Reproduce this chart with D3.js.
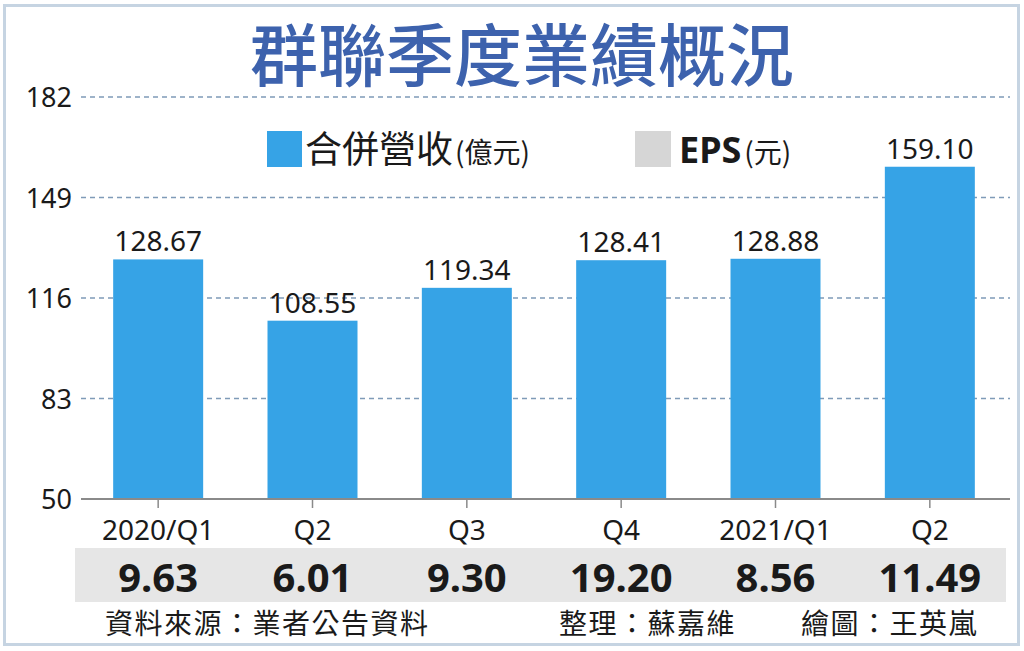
<!DOCTYPE html>
<html><head><meta charset="utf-8">
<script src="https://cdn.jsdelivr.net/npm/d3@7"></script>
<style>
html,body{margin:0;padding:0;background:#fff;}
svg{display:block;}
</style></head>
<body>
<svg id="c" width="1024" height="651"></svg>
<script>
const categories = ["2020/Q1","Q2","Q3","Q4","2021/Q1","Q2"];
const revenue = [128.67,108.55,119.34,128.41,128.88,159.10];
const eps = ["9.63","6.01","9.30","19.20","8.56","11.49"];
const yTicks = [50,83,116,149,182];
const title = "群聯季度業績概況";
const footer = ["資料來源：業者公告資料","整理：蘇嘉維","繪圖：王英嵐"];

const svg = d3.select("#c");
const CJK = "'Noto Sans CJK TC','Noto Sans CJK SC',sans-serif";
const NUM = "'Noto Sans','DejaVu Sans',sans-serif";

svg.append("rect").attr("x",0).attr("y",0).attr("width",1024).attr("height",651).attr("fill","#fff");
svg.append("rect").attr("x",4.5).attr("y",5.5).attr("width",1014).attr("height",639)
  .attr("fill","none").attr("stroke","#c6d4e2").attr("stroke-width",3);

svg.append("text").attr("x",522).attr("y",81).attr("text-anchor","middle")
  .attr("font-family",CJK).attr("font-weight",500).attr("font-size",68)
  .attr("fill","#3d62ad").text(title);

const x = d3.scaleBand().domain(d3.range(categories.length)).range([81,1007]).padding(0);
const y = d3.scaleLinear().domain([50,182]).range([499,97]);
const barW = 90;

// grid
const g = svg.append("g");
g.selectAll("line.grid").data(yTicks.filter(d=>d!==50)).join("line")
  .attr("x1",81).attr("x2",1010).attr("y1",d=>y(d)).attr("y2",d=>y(d))
  .attr("stroke","#7f9bb8").attr("stroke-width",1.5).attr("stroke-dasharray","5,4");
g.selectAll("text.yt").data(yTicks).join("text")
  .attr("x",72).attr("y",d=>y(d)+10).attr("text-anchor","end")
  .attr("font-family",NUM).attr("font-size",27).attr("fill","#1a1a1a").text(d=>d);

// bars
svg.selectAll("rect.bar").data(revenue).join("rect")
  .attr("x",(d,i)=>x(i)+x.bandwidth()/2-barW/2).attr("width",barW)
  .attr("y",d=>y(d)).attr("height",d=>y(50)-y(d)).attr("fill","#36a3e6");
svg.selectAll("text.val").data(revenue).join("text")
  .attr("x",(d,i)=>x(i)+x.bandwidth()/2).attr("y",d=>y(d)-8).attr("text-anchor","middle")
  .attr("font-family",NUM).attr("font-size",28).attr("fill","#1a1a1a").text(d=>d.toFixed(2));

// axis
svg.append("line").attr("x1",81).attr("x2",1010).attr("y1",y(50)).attr("y2",y(50))
  .attr("stroke","#8a8a8a").attr("stroke-width",2);
svg.selectAll("line.tk").data(categories).join("line")
  .attr("x1",(d,i)=>x(i)+x.bandwidth()/2).attr("x2",(d,i)=>x(i)+x.bandwidth()/2)
  .attr("y1",y(50)).attr("y2",y(50)+9).attr("stroke","#8a8a8a").attr("stroke-width",1.5);
svg.selectAll("text.xl").data(categories).join("text")
  .attr("x",(d,i)=>x(i)+x.bandwidth()/2).attr("y",540).attr("text-anchor","middle")
  .attr("font-family",NUM).attr("font-size",28).attr("fill","#1a1a1a").text(d=>d);

// EPS band
svg.append("rect").attr("x",75).attr("y",548).attr("width",931).attr("height",54).attr("fill","#e6e6e6");
svg.selectAll("text.eps").data(eps).join("text")
  .attr("x",(d,i)=>x(i)+x.bandwidth()/2).attr("y",592).attr("text-anchor","middle")
  .attr("font-family",NUM).attr("font-weight",700).attr("font-size",40).attr("fill","#1a1a1a").text(d=>d);

// legend
svg.append("rect").attr("x",267).attr("y",131).attr("width",35).attr("height",36).attr("fill","#36a3e6");
const l1 = svg.append("text").attr("x",305).attr("y",163).attr("font-family",CJK).attr("fill","#1a1a1a");
l1.append("tspan").attr("font-size",37).text("合併營收");
l1.append("tspan").attr("font-size",28).attr("dx",2).text("(億元)");
svg.append("rect").attr("x",635).attr("y",131).attr("width",36).attr("height",36).attr("fill","#d6d6d6");
const l2 = svg.append("text").attr("x",679).attr("y",163).attr("fill","#1a1a1a");
l2.append("tspan").attr("font-family",NUM).attr("font-weight",700).attr("font-size",36).text("EPS");
l2.append("tspan").attr("font-family",CJK).attr("font-size",28).attr("dx",3).text("(元)");

// footer
const fx = [105,559,801];
svg.selectAll("text.ft").data(footer).join("text")
  .attr("x",(d,i)=>fx[i]).attr("y",634).attr("font-family",CJK).attr("font-size",28)
  .attr("letter-spacing",1.5).attr("fill","#1a1a1a").text(d=>d);
</script>
</body></html>
